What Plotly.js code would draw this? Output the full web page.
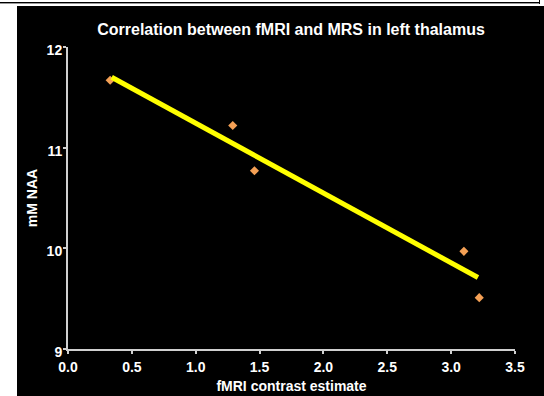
<!DOCTYPE html>
<html>
<head>
<meta charset="utf-8">
<script src="https://cdn.plot.ly/plotly-3.0.1.min.js"></script>
<style>
  html, body { margin:0; padding:0; background:#ffffff; width:544px; height:396px; overflow:hidden; }
  #topline { position:absolute; left:0; top:2px; width:540px; height:1px; background:#000; }
  #topline2 { position:absolute; left:0; top:3px; width:540px; height:1px; background:#999; }
  #rightline { position:absolute; left:539px; top:0; width:1px; height:4px; background:#000; }
  #chart { position:absolute; left:17px; top:6px; width:527px; height:390px; }
</style>
</head>
<body>
<div id="topline"></div>
<div id="topline2"></div>
<div id="rightline"></div>
<div id="chart"></div>
<script>
// Data points
const fmriContrast = [0.33, 1.29, 1.46, 3.10, 3.22];
const mmNAA        = [11.67, 11.22, 10.77, 9.97, 9.51];
// Regression line endpoints as drawn
const fitX = [0.342, 3.21];
const fitY = [11.70, 9.71];

const titleText = "Correlation between fMRI and MRS in left thalamus";
const xTitle = "fMRI contrast estimate";
const yTitle = "mM NAA";
const xTickVals = [0, 0.5, 1, 1.5, 2, 2.5, 3, 3.5];
const xTickText = ["0.0", "0.5", "1.0", "1.5", "2.0", "2.5", "3.0", "3.5"];
const yTickVals = [9, 10, 11, 12];
const yTickText = ["9", "10", "11", "12"];

const fontFam = "'Liberation Sans Narrow', 'Arial Narrow', 'Liberation Sans', Arial, sans-serif";

const traces = [
  {
    x: fmriContrast, y: mmNAA, type: "scatter", mode: "markers",
    marker: { symbol: "diamond", size: 7, color: "#f4a055" },
    hoverinfo: "skip"
  },
  {
    x: fitX, y: fitY, type: "scatter", mode: "lines",
    line: { color: "#ffff00", width: 5 },
    hoverinfo: "skip"
  }
];

const axisCommon = {
  showgrid: false, zeroline: false,
  showline: true, linecolor: "#d0d0d0", linewidth: 2,
  ticks: "outside", ticklen: 3, tickwidth: 2, tickcolor: "#d0d0d0",
  tickfont: { family: fontFam, size: 14, color: "#ffffff", weight: "bold" },
  fixedrange: true
};

const layout = {
  width: 527, height: 390,
  paper_bgcolor: "#000000", plot_bgcolor: "#000000",
  margin: { l: 51, r: 29, t: 41, b: 47 },
  showlegend: false,
  title: {
    text: titleText,
    font: { family: fontFam, size: 16, color: "#ffffff", weight: "bold" },
    x: 0.52, xanchor: "center", y: 0.94, yanchor: "middle"
  },
  xaxis: Object.assign({}, axisCommon, {
    range: [0, 3.5],
    tickvals: xTickVals, ticktext: xTickText,
    ticklabelstandoff: 1,
    title: { text: xTitle, standoff: 7,
      font: { family: fontFam, size: 14, color: "#ffffff", weight: "bold" } }
  }),
  yaxis: Object.assign({}, axisCommon, {
    range: [9, 12],
    tickvals: yTickVals, ticktext: yTickText,
    ticklabelstandoff: -2,
    ticklabelshift: 3,
    title: { text: yTitle, standoff: 6,
      font: { family: fontFam, size: 14, color: "#ffffff", weight: "bold" } }
  })
};

Plotly.newPlot("chart", traces, layout, { displayModeBar: false, staticPlot: true });
</script>
</body>
</html>
